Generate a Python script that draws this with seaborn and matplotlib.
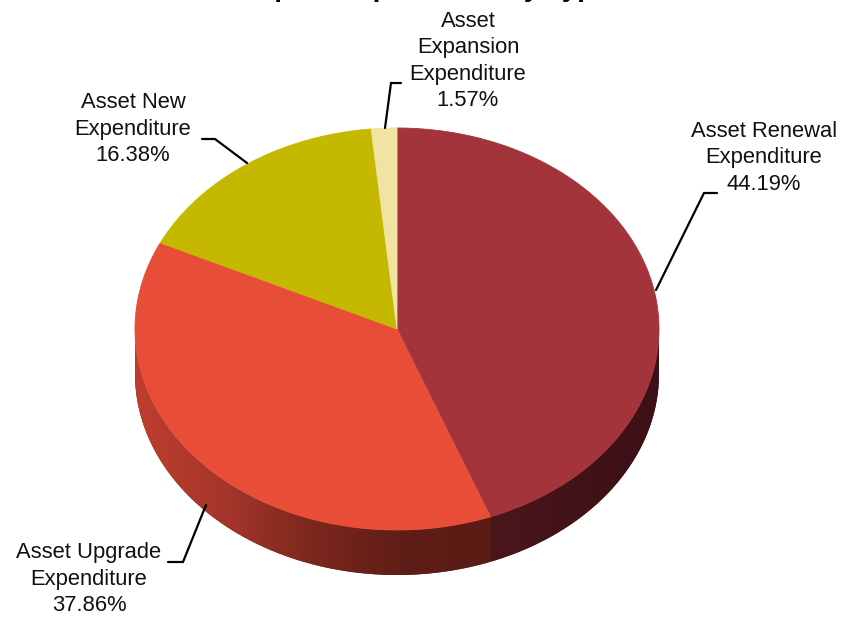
import numpy as np
import pandas as pd
import seaborn as sns
import matplotlib
matplotlib.use("Agg")
import matplotlib.pyplot as plt
from matplotlib.patches import Polygon
from matplotlib.colors import LinearSegmentedColormap

# ---- data -------------------------------------------------------------
categories = ["Asset Renewal Expenditure", "Asset Upgrade Expenditure",
              "Asset New Expenditure", "Asset Expansion Expenditure"]
shares = [44.19, 37.86, 16.38, 1.57]
label_names = ["Asset Renewal\nExpenditure", "Asset Upgrade\nExpenditure",
               "Asset New\nExpenditure", "Asset\nExpansion\nExpenditure"]
title_text = "Capital Expenditure by Type"

df = pd.DataFrame({"category": categories, "share": shares, "label": label_names})

# ---- style ------------------------------------------------------------
sns.set_theme(style="white")
plt.rcParams["font.family"] = ["Liberation Sans", "DejaVu Sans"]

top_palette = sns.color_palette(["#A3343B", "#E84E37", "#C5B900", "#F0E4A0"])
side_ramps = [["#4A161C", "#3B1016"],
              ["#BE3E2F", "#A5362A", "#7C271D", "#5F1E17", "#5A1C15"],
              ["#8A8200", "#6E6800"],
              ["#A89F70", "#A89F70"]]

fig = plt.figure(figsize=(8.46, 6.19), dpi=100)
ax = fig.add_axes([0, 0, 1, 1])
ax.axis("off")

# pseudo-3D pie geometry (pixel space)
cx, cy, rx, ry, depth = 397.0, 329.0, 262.0, 201.0, 45.0


def rim(t0, t1, n=200, dy=0.0):
    th = np.radians(np.linspace(t0, t1, n))
    return np.column_stack([cx + rx * np.sin(th), cy - ry * np.cos(th) + dy])


bounds = np.concatenate([[0.0], np.cumsum(df["share"].to_numpy())])
bounds = bounds / bounds[-1] * 360.0

# solid backing for the whole front wall (hides seams between wall pieces)
backing = np.vstack([rim(90, 270), rim(90, 270, dy=depth)[::-1]])
ax.add_patch(Polygon(backing, closed=True, facecolor="#561B16",
                     edgecolor="none", zorder=0.5))

# side walls (visible only on the front half: 90..270 degrees clockwise from top)
for i in range(len(df)):
    s0, s1 = max(bounds[i], 90.0), min(bounds[i + 1], 270.0)
    if s0 >= s1:
        continue
    top = rim(s0, s1)
    bot = rim(s0, s1, dy=depth)[::-1]
    pts = np.vstack([top, bot])
    wall = Polygon(pts, closed=True, facecolor="none", edgecolor="none",
                   transform=ax.transData)
    ax.add_patch(wall)
    x0, x1 = pts[:, 0].min(), pts[:, 0].max()
    y0, y1 = pts[:, 1].min(), pts[:, 1].max()
    cmap = LinearSegmentedColormap.from_list(f"wall{i}", side_ramps[i])
    grad = np.linspace(0, 1, 256)[None, :]
    im = ax.imshow(grad, cmap=cmap, extent=(x0, x1, y1, y0), aspect="auto",
                   interpolation="bilinear", zorder=1)
    im.set_clip_path(wall)

# top faces
for i in range(len(df)):
    pts = np.vstack([[cx, cy], rim(bounds[i], bounds[i + 1])])
    ax.add_patch(Polygon(pts, closed=True, facecolor=top_palette[i],
                         edgecolor=top_palette[i], linewidth=0.6, zorder=2))

# labels with leader lines
fs = 15.8
label_pos = [(764, 158), (89, 579), (133, 129), (468, 61)]
leaders = [([717, 704, 656], [193, 193, 290]),
           ([168, 183, 206], [562, 562, 505]),
           ([202, 215, 247], [139, 139, 163]),
           ([401, 391, 385], [83, 83, 128])]
for i, row in df.iterrows():
    txt = f"{row['label']}\n{row['share']:.2f}%"
    ax.text(*label_pos[i], txt, ha="center", va="center", multialignment="center",
            fontsize=fs, color="#111111", linespacing=1.32, zorder=4)
    lx, ly = leaders[i]
    ax.plot(lx, ly, color="black", linewidth=1.6, zorder=3,
            solid_joinstyle="miter")

# chart title sits just above the visible canvas
ax.text(424, -4, title_text, ha="center", va="baseline", fontsize=20,
        fontweight="bold", color="black", zorder=4, clip_on=False)

ax.set_xlim(0, 846)
ax.set_ylim(619, 0)
fig.savefig("out.png", dpi=100, facecolor="white")
